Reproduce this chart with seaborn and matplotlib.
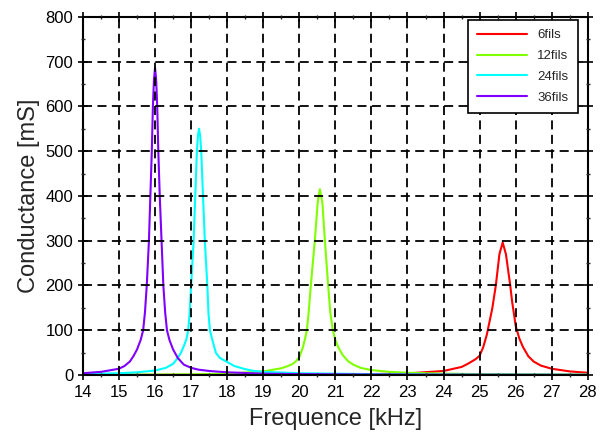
import pandas as pd
import matplotlib
matplotlib.use("Agg")
import matplotlib.pyplot as plt
import seaborn as sns
from matplotlib.ticker import MultipleLocator

# values (kHz, mS)
freq_6 = [14, 18, 20, 22, 23, 24, 24.5, 24.65, 24.8, 24.9, 25.0, 25.1, 25.2, 25.35, 25.45,
          25.55, 25.64, 25.73, 25.85, 25.9, 25.95, 26.0, 26.1, 26.2, 26.35, 26.5, 26.7,
          27.0, 27.5, 28.0]
cond_6 = [0.2, 0.4, 0.8, 2, 3.5, 9, 18, 24, 31, 36, 43, 62, 90, 148, 200,
          270, 296, 270, 200, 165, 138, 110, 82, 63, 42, 30, 21,
          14, 8, 5]

freq_12 = [14, 16, 17, 18, 19, 19.5, 19.65, 19.8, 19.9, 20.0, 20.1, 20.15, 20.21, 20.26,
           20.32, 20.43, 20.51, 20.57, 20.64, 20.71, 20.80, 20.86, 20.93, 21.0, 21.08, 21.2,
           21.35, 21.5, 21.7, 22, 22.5, 23, 24, 25, 26, 28]
cond_12 = [0.5, 1, 1.5, 3, 8, 15, 19, 24, 30, 40, 62, 78, 100, 140,
           200, 300, 385, 415, 385, 300, 200, 140, 100, 78, 62, 45,
           31, 23, 16, 11, 7, 5, 3, 2, 1.5, 1]

freq_24 = [14, 15, 15.5, 16, 16.3, 16.5, 16.63, 16.72, 16.8, 16.87, 16.92, 16.96, 17.0,
           17.07, 17.115, 17.16, 17.19, 17.22, 17.25, 17.28, 17.33, 17.38, 17.45, 17.48,
           17.52, 17.6, 17.69, 17.8, 18.0, 18.2, 18.5, 18.75, 19, 20, 21, 22, 24, 28]
cond_24 = [2, 4, 6, 10, 16, 25, 38, 50, 65, 80, 100, 140, 200,
           300, 400, 500, 535, 550, 535, 500, 400, 300, 200, 140,
           100, 75, 49, 38, 29, 20, 13, 9, 7, 4, 3, 2, 1, 0.5]

freq_36 = [14, 14.5, 15, 15.15, 15.3, 15.4, 15.5, 15.6, 15.67, 15.72, 15.77, 15.83, 15.87,
           15.91, 15.94, 15.97, 16.0, 16.03, 16.06, 16.09, 16.13, 16.18, 16.23, 16.28,
           16.33, 16.4, 16.5, 16.63, 16.8, 17.0, 17.2, 17.5, 18, 19, 20, 21, 22, 24, 28]
cond_36 = [4, 7, 14, 20, 30, 42, 57, 78, 100, 140, 200, 300, 400,
           500, 600, 660, 686, 660, 600, 500, 400, 300, 200, 140,
           100, 78, 57, 38, 23, 16, 12, 9, 6, 3, 2, 1.5, 1, 0.7, 0.3]

labels = ["6fils", "12fils", "24fils", "36fils"]
colors = ["#ff0000", "#80ff00", "#00ffff", "#8000ff"]


def build_frame():
    parts = []
    for name, f, c in zip(labels, [freq_6, freq_12, freq_24, freq_36],
                          [cond_6, cond_12, cond_24, cond_36]):
        parts.append(pd.DataFrame({"freq": f, "cond": c, "serie": name}))
    return pd.concat(parts, ignore_index=True)


def main():
    df = build_frame()

    sns.set_style("ticks")
    plt.rcParams["font.family"] = ["Liberation Sans", "DejaVu Sans"]

    fig = plt.figure(figsize=(6.01, 4.43), dpi=100)
    ax = fig.add_axes([0.138, 0.1535, 0.84, 0.8085])

    sns.lineplot(data=df, x="freq", y="cond", hue="serie", hue_order=labels,
                 palette=colors, estimator=None, sort=False, linewidth=1.5, ax=ax)

    ax.set_xlim(14, 28)
    ax.set_ylim(0, 800)
    ax.xaxis.set_major_locator(MultipleLocator(1))
    ax.xaxis.set_minor_locator(MultipleLocator(0.5))
    ax.yaxis.set_major_locator(MultipleLocator(100))
    ax.yaxis.set_minor_locator(MultipleLocator(50))

    ax.grid(True, which="major", color="black", linestyle=(0, (5, 3)), linewidth=1.3)
    ax.set_axisbelow(False)

    ax.tick_params(which="major", direction="inout", length=7, width=1.2,
                   top=True, right=True, labelsize=12, colors="black")
    ax.tick_params(which="minor", direction="inout", length=3, width=1,
                   top=True, right=True)
    for s in ax.spines.values():
        s.set_linewidth(1.5)
        s.set_color("black")

    ax.set_xlabel("Frequence [kHz]", fontsize=17, labelpad=6)
    ax.set_ylabel("Conductance [mS]", fontsize=17, labelpad=4)

    leg = ax.legend(loc="upper right", bbox_to_anchor=(0.980, 0.9916), fontsize=9.5,
                    frameon=True, fancybox=False, edgecolor="black", framealpha=1,
                    handlelength=3.8, handletextpad=0.75, borderpad=0.7,
                    borderaxespad=0, labelspacing=0.65, title=None)
    leg.get_frame().set_linewidth(1.2)

    fig.savefig("out.png", dpi=100)


if __name__ == "__main__":
    main()
